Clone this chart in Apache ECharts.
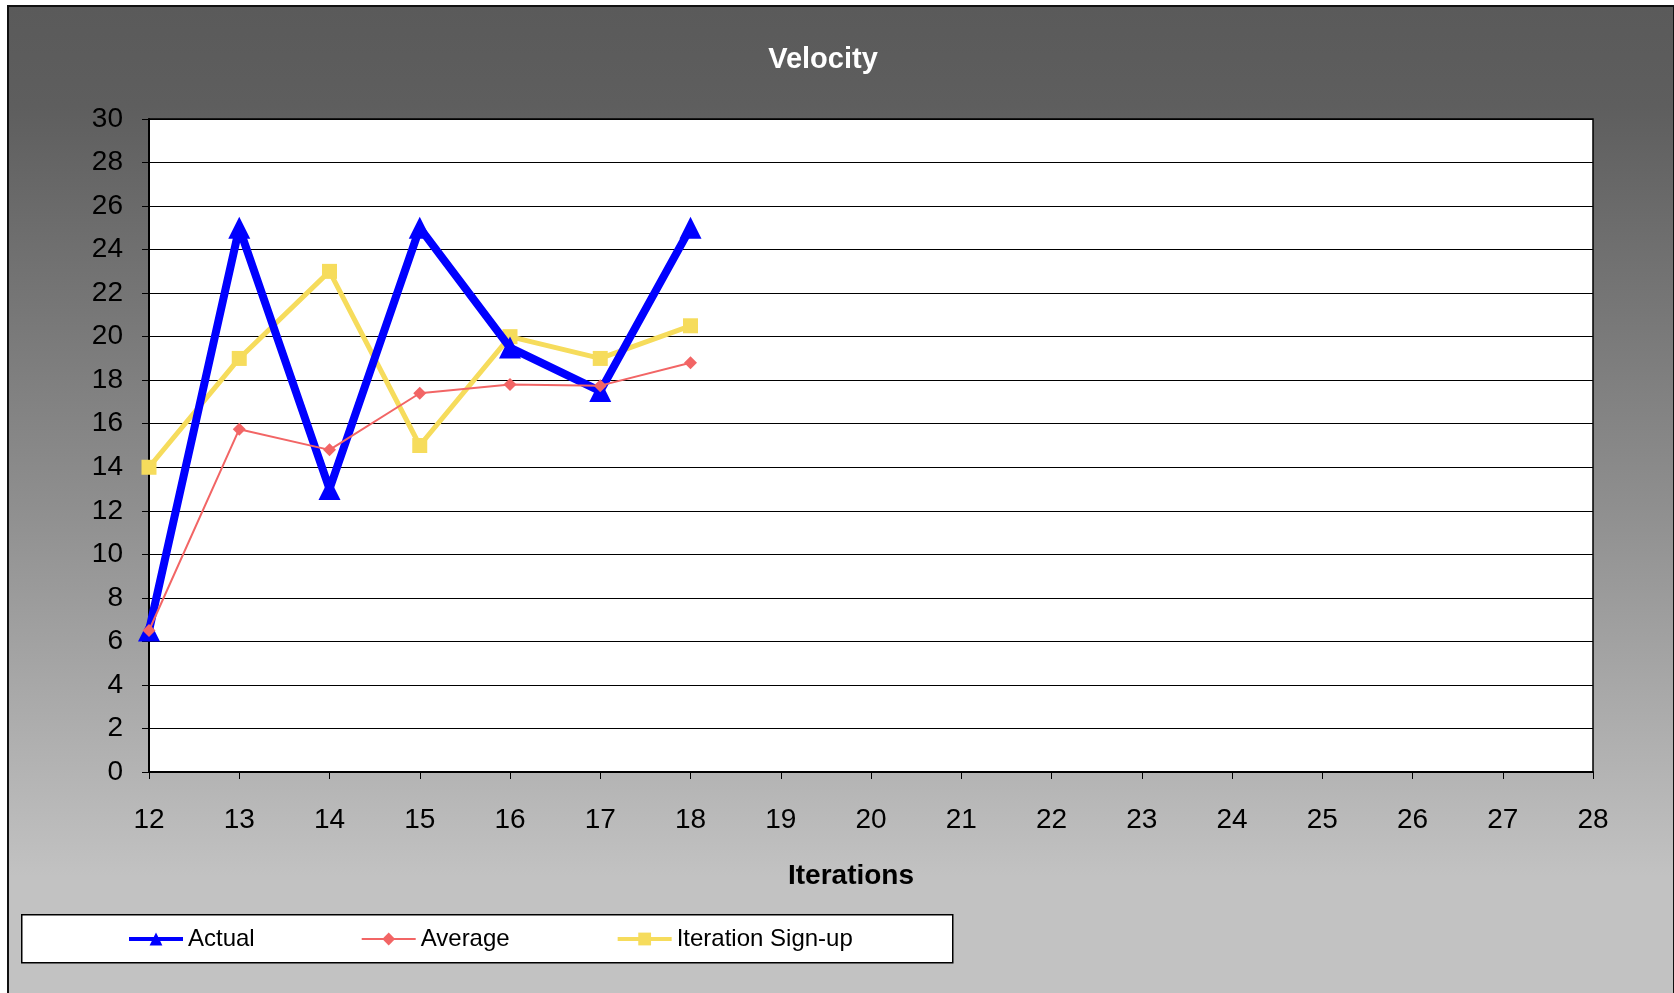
<!DOCTYPE html>
<html>
<head>
<meta charset="utf-8">
<title>Velocity</title>
<script src="https://cdn.jsdelivr.net/npm/echarts@6/dist/echarts.min.js"></script>
<style>
  html, body { margin: 0; padding: 0; background: #fff; }
  #frame {
    position: absolute; left: 7px; top: 5px; width: 1664px; height: 988px;
    border-left: 2px solid #111; border-top: 2px solid #111; border-right: 2px solid #111;
    background: linear-gradient(to bottom, #5a5a5a 0%, #5e5e5e 10%, #8e8e8e 50%, #c2c2c2 88%, #c2c2c2 100%);
  }
  #content { position: absolute; left: -9px; top: -7px; width: 1674px; height: 993px; }
</style>
</head>
<body>
<div id="frame"><div id="content"></div></div>
<script>
// iterations on the x axis
var iterations = [12, 13, 14, 15, 16, 17, 18];
// velocity values per series
var actual = [6.5, 25, 13, 25, 19.5, 17.5, 25];
var average = [6.5, 15.75, 14.8, 17.4, 17.8, 17.75, 18.8];
var signUp = [14, 19, 23, 15, 20, 19, 20.5];

function pairs(ys) {
  return iterations.map(function (x, i) { return [x, ys[i]]; });
}

var font = '"Liberation Sans", Arial, sans-serif';

var myChart = echarts.init(document.getElementById('content'));
myChart.setOption({
  animation: false,
  title: {
    text: 'Velocity',
    left: 818, top: 40, textAlign: 'center',
    textStyle: { color: '#fff', fontFamily: font, fontWeight: 'bold', fontSize: 29 }
  },
  grid: {
    left: 149, right: 81, top: 119, bottom: 221,
    show: true, backgroundColor: '#fff', borderColor: '#000', borderWidth: 1.5
  },
  //X轴
  xAxis: {
    type: 'value', min: 12, max: 28, interval: 1,
    name: 'Iterations', nameLocation: 'middle', nameGap: 90,
    nameTextStyle: { color: '#000', fontFamily: font, fontWeight: 'bold', fontSize: 28, padding: [0, 40, 0, 0] },
    axisLine: { lineStyle: { color: '#000', width: 2 } },
    axisTick: { show: true, length: 7, lineStyle: { color: '#000' } },
    axisLabel: { color: '#000', fontFamily: font, fontSize: 28, margin: 34 },
    splitLine: { show: false }
  },
  //Y轴
  yAxis: {
    type: 'value', min: 0, max: 30, interval: 2,
    axisLine: { show: true, lineStyle: { color: '#000', width: 2 } },
    axisTick: { show: true, length: 7, lineStyle: { color: '#000' } },
    axisLabel: { color: '#000', fontFamily: font, fontSize: 28, margin: 26 },
    splitLine: { show: true, lineStyle: { color: '#000', width: 1.2 } }
  },
  legend: {
    left: 122, top: 922,
    itemGap: 106, itemWidth: 54, itemHeight: 16,
    textStyle: { color: '#000', fontFamily: font, fontSize: 24 },
    data: [
      { name: 'Actual', lineStyle: { width: 4 } },
      { name: 'Average', lineStyle: { width: 2 } },
      { name: 'Iteration Sign-up', lineStyle: { width: 4 } }
    ]
  },
  graphic: [{
    type: 'rect', left: 21, top: 914, z: -1,
    shape: { width: 931, height: 48 },
    style: { fill: '#fff', stroke: '#000', lineWidth: 1.5 }
  }],
  series: [{
    name: 'Actual', type: 'line', data: pairs(actual),
    lineStyle: { color: '#0000ff', width: 8 },
    itemStyle: { color: '#0000ff' },
    symbol: 'triangle', symbolSize: 22, z: 4
  }, {
    name: 'Average', type: 'line', data: pairs(average),
    lineStyle: { color: '#f26565', width: 2 },
    itemStyle: { color: '#f26565' },
    symbol: 'diamond', symbolSize: 13, z: 5
  }, {
    name: 'Iteration Sign-up', type: 'line', data: pairs(signUp),
    lineStyle: { color: '#f6dc5c', width: 5 },
    itemStyle: { color: '#f6dc5c' },
    symbol: 'rect', symbolSize: 15, z: 3
  }]
});
</script>
</body>
</html>
